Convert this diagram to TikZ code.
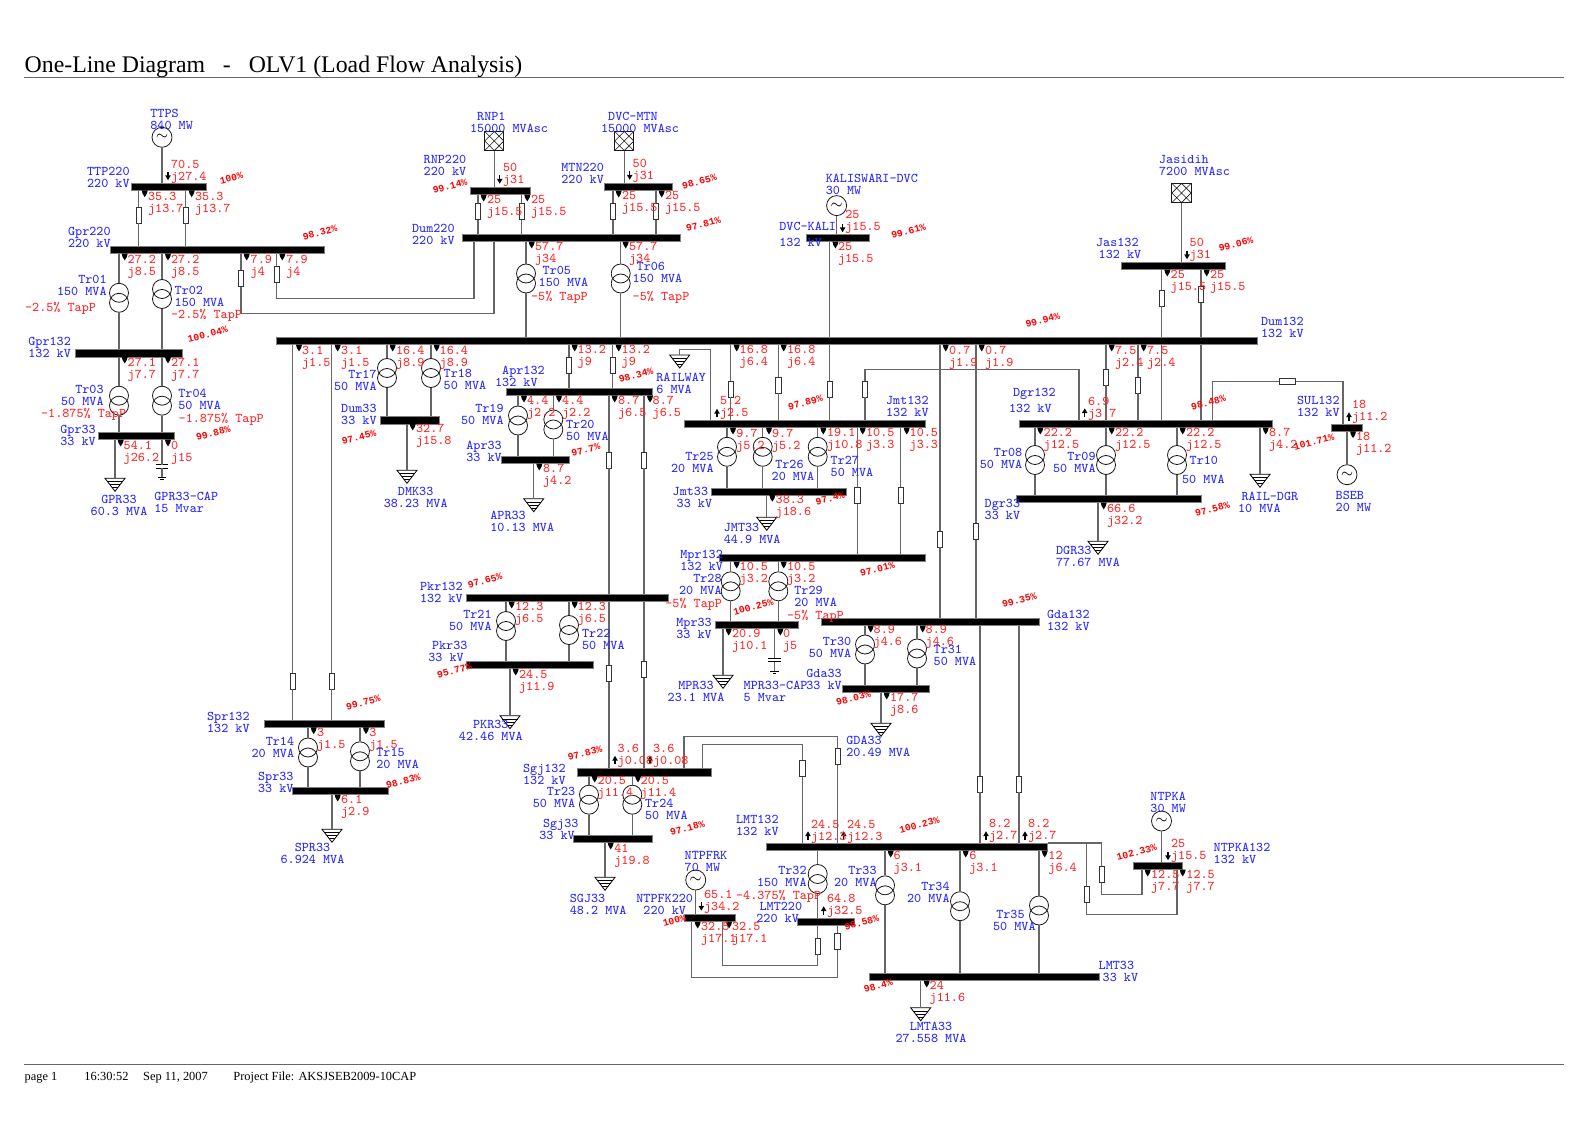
\documentclass[tikz,border=0pt]{standalone}
\usepackage{fontspec}
\setmainfont{Liberation Serif}
\newfontfamily\pctfont{Liberation Mono}
\usetikzlibrary{positioning}

\begin{document}
\begin{tikzpicture}[
    x=0.5pt, y=-0.5pt,
    bus/.style={rectangle, fill=black, draw=black!50, line width=.3pt, minimum height=3.6pt, inner sep=0pt},
    wire/.style={draw=black!60, line width=.7pt},
    cable/.style={rectangle, draw=black!80, fill=white, line width=.4pt, minimum width=2.7pt, minimum height=8pt, inner sep=0pt},
    hcable/.style={cable, minimum width=8pt, minimum height=2.7pt},
    coil/.style={circle, draw=black!90, line width=.4pt, minimum size=9.5pt, inner sep=0pt},
    gen/.style={circle, draw=black!90, line width=.4pt, fill=white, minimum size=10pt, inner sep=0pt, font=\fontsize{7pt}{7pt}\selectfont},
    grid/.style={rectangle, draw=black!90, line width=.5pt, minimum size=9.6pt, inner sep=0pt,
        path picture={\draw[line width=.3pt] (path picture bounding box.north west) -- (path picture bounding box.south east)
            (path picture bounding box.north east) -- (path picture bounding box.south west)
            (path picture bounding box.north) -- (path picture bounding box.east) -- (path picture bounding box.south) -- (path picture bounding box.west) -- cycle;}},
    tag/.style={font=\ttfamily\fontsize{6.67pt}{6pt}\selectfont, text=blue!85, align=left, anchor=north west, inner sep=0pt, yshift=.2pt},
    tagr/.style={tag, align=right, anchor=north east},
    tagc/.style={tag, align=center, anchor=north},
    flow/.style={tag, text=red!85, yshift=-.2pt},
    pct/.style={font=\pctfont\bfseries\fontsize{4.9pt}{6pt}\selectfont, text=red, rotate=15, inner sep=0pt},
    rule/.style={draw=black!60, line width=.4pt},
    xfmr/.pic={\node[coil] (-a) at (0,2.5pt) {}; \node[coil] (-b) at (0,-2.5pt) {};},
    loadsym/.pic={\coordinate (-top) at (0,0);
        \draw[line width=.4pt] (-5pt,0) -- (5pt,0) -- (0,-6.5pt) -- cycle;
        \draw[line width=.3pt] (-3.8pt,-1.6pt) -- (3.8pt,-1.6pt) (-2.6pt,-3.1pt) -- (2.6pt,-3.1pt) (-1.5pt,-4.6pt) -- (1.5pt,-4.6pt);},
    capsym/.pic={\coordinate (-top) at (0,0);
        \draw[line width=.4pt] (-3.2pt,0) -- (3.2pt,0) (-3.2pt,-1.7pt) -- (3.2pt,-1.7pt);
        \draw[wire] (0,-1.7pt) -- (0,-6.3pt);
        \draw[line width=.4pt] (-2.2pt,-6.3pt) -- (2.2pt,-6.3pt) (-.8pt,-7.5pt) -- (.8pt,-7.5pt);},
    mark/.pic={\fill (-1.5pt,.2pt) -- (1.5pt,.2pt) -- (1.1pt,-1.4pt) -- (0,-3.2pt) -- (-1.1pt,-1.4pt) -- cycle;},
    arrdn/.pic={\draw[line width=.6pt] (0,2.1pt) -- (0,0); \fill (-1.4pt,.3pt) -- (1.4pt,.3pt) -- (0,-2.1pt) -- cycle;},
    arrup/.pic={\draw[line width=.6pt] (0,-2.1pt) -- (0,0); \fill (-1.4pt,-.3pt) -- (1.4pt,-.3pt) -- (0,2.1pt) -- cycle;}
]
\useasboundingbox (0,0) rectangle (1588,1122);

% Title and footer
\node[anchor=base west, inner sep=0pt, font=\fontsize{11.9pt}{13pt}\selectfont] (title) at (24.3,73) {One-Line Diagram\ \ \ -\ \ \ OLV1 (Load Flow Analysis)};
\draw[rule] (24.3,77.5) -- (1564,77.5);
\draw[rule] (24.3,1064.5) -- (1564,1064.5);
\node[anchor=base west, inner sep=0pt, font=\fontsize{6.2pt}{7pt}\selectfont] (foot1) at (24.3,1080) {page 1};
\node[anchor=base west, inner sep=0pt, font=\fontsize{6.2pt}{7pt}\selectfont] (foot2) at (84,1080) {16:30:52};
\node[anchor=base west, inner sep=0pt, font=\fontsize{6.2pt}{7pt}\selectfont] (foot3) at (142.8,1080) {Sep 11, 2007};
\node[anchor=base west, inner sep=0pt, font=\fontsize{6.2pt}{7pt}\selectfont] (foot4) at (233,1080) {Project File: AKSJSEB2009-10CAP};

% Buses
\node[bus, minimum width=37.5pt] (ttp220) at (168.5,187) {};
\node[bus, minimum width=106.6pt] (gpr220) at (217.3,250) {};
\node[bus, minimum width=53.2pt] (gpr132) at (128.8,353.3) {};
\node[bus, minimum width=37.7pt] (gpr33) at (136.3,436) {};
\node[bus, minimum width=29.7pt] (rnp220) at (500.3,191) {};
\node[bus, minimum width=33.7pt] (mtn220) at (638.3,187) {};
\node[bus, minimum width=108.7pt] (dum220) at (571.3,238) {};
\node[bus, minimum width=490.2pt] (dum132) at (766.8,341) {};
\node[bus, minimum width=29.7pt] (dum33) at (409.7,420.3) {};
\node[bus, minimum width=73.2pt] (apr132) at (579.2,392) {};
\node[bus, minimum width=33.7pt] (apr33) at (535.3,460) {};
\node[bus, minimum width=100.8pt] (pkr132) at (567.5,598) {};
\node[bus, minimum width=63.3pt] (pkr33) at (530,665) {};
\node[bus, minimum width=120.7pt] (jmt132) at (804.7,424) {};
\node[bus, minimum width=67.5pt] (jmt33) at (778.5,491.5) {};
\node[bus, minimum width=103.2pt] (mpr132) at (822.2,558) {};
\node[bus, minimum width=41.7pt] (mpr33) at (756.7,625) {};
\node[bus, minimum width=108.8pt] (gda132) at (930.5,622) {};
\node[bus, minimum width=43.5pt] (gda33) at (885.8,689) {};
\node[bus, minimum width=67.2pt] (sgj132) at (644.2,772.3) {};
\node[bus, minimum width=39.7pt] (sgj33) at (612.7,839) {};
\node[bus, minimum width=59.8pt] (spr132) at (324.5,724) {};
\node[bus, minimum width=47.8pt] (spr33) at (340.5,791) {};
\node[bus, minimum width=31.5pt] (kali132) at (837.5,238) {};
\node[bus, minimum width=51.8pt] (jas132) at (1173.5,266) {};
\node[bus, minimum width=126.3pt] (dgr132) at (1146,424) {};
\node[bus, minimum width=92.7pt] (dgr33) at (1108.7,499) {};
\node[bus, minimum width=15.5pt] (sul132) at (1347.2,428) {};
\node[bus, minimum width=140.3pt] (lmt132) at (907,847) {};
\node[bus, minimum width=115pt] (lmt33) at (984,977) {};
\node[bus, minimum width=28.2pt] (lmt220) at (825.9,922) {};
\node[bus, minimum width=25.7pt] (ntpfk220) at (709.7,918) {};
\node[bus, minimum width=24.3pt] (ntpka132) at (1158,866) {};

% Sources
\node[gen] (ttps) at (162,137.3) {$\sim$};
\node[gen] (kaliswari) at (836.6,205.6) {$\sim$};
\node[gen] (bseb) at (1347,474.7) {$\sim$};
\node[gen] (ntpfrk) at (695.7,880) {$\sim$};
\node[gen] (ntpka) at (1161.5,821) {$\sim$};
\node[grid] (rnp1) at (494.3,141) {};
\node[grid] (dvcmtn) at (624.3,141) {};
\node[grid] (jasidih) at (1181.5,193) {};
\draw[wire] (ttps) -- (ttps |- ttp220.north);
\draw[wire] (kaliswari) -- (kaliswari |- kali132.north);
\draw[wire] (bseb) -- (bseb |- sul132.south);
\draw[wire] (ntpfrk) -- (ntpfrk |- ntpfk220.north);
\draw[wire] (ntpka) -- (ntpka |- ntpka132.north);
\draw[wire] (rnp1) -- (rnp1 |- rnp220.north);
\draw[wire] (dvcmtn) -- (dvcmtn |- mtn220.north);
\draw[wire] (jasidih) -- (jasidih |- jas132.north);

% Cables between buses
\node[cable] (c01) at (138.7,215) {};
\node[cable] (c02) at (185.7,215) {};
\draw[wire] (c01 |- ttp220.south) -- (c01) -- (c01 |- gpr220.north);
\draw[wire] (c02 |- ttp220.south) -- (c02) -- (c02 |- gpr220.north);
\node[cable] (c03) at (241,278.3) {};
\node[cable] (c04) at (276.7,274.3) {};
\coordinate (g1) at (494,313.3);
\coordinate (g2) at (474,298.3);
\draw[wire] (c03 |- gpr220.south) -- (c03) -- (c03 |- g1) -- (g1) -- (g1 |- dum220.south);
\draw[wire] (c04 |- gpr220.south) -- (c04) -- (c04 |- g2) -- (g2) -- (g2 |- dum220.south);
\node[cable] (c05) at (478,211.3) {};
\node[cable] (c06) at (521.7,211.3) {};
\node[cable] (c07) at (613,211.3) {};
\node[cable] (c08) at (656,211.3) {};
\draw[wire] (c05 |- rnp220.south) -- (c05) -- (c05 |- dum220.north);
\draw[wire] (c06 |- rnp220.south) -- (c06) -- (c06 |- dum220.north);
\draw[wire] (c07 |- mtn220.south) -- (c07) -- (c07 |- dum220.north);
\draw[wire] (c08 |- mtn220.south) -- (c08) -- (c08 |- dum220.north);
\node[cable] (c09) at (292.7,681) {};
\node[cable] (c10) at (331.7,681) {};
\draw[wire] (c09 |- dum132.south) -- (c09) -- (c09 |- spr132.north);
\draw[wire] (c10 |- dum132.south) -- (c10) -- (c10 |- spr132.north);
\node[cable] (c11) at (569,365.3) {};
\node[cable] (c12) at (612.7,365.3) {};
\draw[wire] (c11 |- dum132.south) -- (c11) -- (c11 |- apr132.north);
\draw[wire] (c12 |- dum132.south) -- (c12) -- (c12 |- apr132.north);
\node[cable] (c13) at (609,460) {};
\node[cable] (c14) at (644,460) {};
\node[cable] (c15) at (609,673.3) {};
\node[cable] (c16) at (644,669.3) {};
\draw[wire] (c13 |- apr132.south) -- (c13) -- (c13 |- pkr132.north);
\draw[wire] (c14 |- apr132.south) -- (c14) -- (c14 |- pkr132.north);
\draw[wire] (c15 |- pkr132.south) -- (c15) -- (c15 |- sgj132.north);
\draw[wire] (c16 |- pkr132.south) -- (c16) -- (c16 |- sgj132.north);
\node[cable] (c17) at (730.7,389) {};
\node[cable] (c18) at (778.3,385) {};
\node[cable] (c19) at (829.7,389) {};
\draw[wire] (c17 |- dum132.south) -- (c17) -- (c17 |- jmt132.north);
\draw[wire] (c18 |- dum132.south) -- (c18) -- (c18 |- jmt132.north);
\draw[wire] (c19 |- kali132.south) -- (c19 |- dum132.north);
\draw[wire] (c19 |- dum132.south) -- (c19) -- (c19 |- jmt132.north);
\node[cable] (c20) at (865,389) {};
\coordinate (j1) at (1079,369.3);
\draw[wire] (c20 |- jmt132.north) -- (c20) -- (c20 |- j1) -- (j1) -- (j1 |- dgr132.north);
\node[cable] (c21) at (857.3,495.3) {};
\node[cable] (c22) at (900.7,495.3) {};
\draw[wire] (c21 |- jmt132.south) -- (c21) -- (c21 |- mpr132.north);
\draw[wire] (c22 |- jmt132.south) -- (c22) -- (c22 |- mpr132.north);
\node[cable] (c23) at (940,539) {};
\node[cable] (c24) at (976,531.7) {};
\draw[wire] (c23 |- dum132.south) -- (c23) -- (c23 |- gda132.north);
\draw[wire] (c24 |- dum132.south) -- (c24) -- (c24 |- gda132.north);
\node[cable] (c25) at (980,784) {};
\node[cable] (c26) at (1019,784) {};
\draw[wire] (c25 |- gda132.south) -- (c25) -- (c25 |- lmt132.north);
\draw[wire] (c26 |- gda132.south) -- (c26) -- (c26 |- lmt132.north);
\node[cable] (c27) at (1161.7,298) {};
\node[cable] (c28) at (1201,294.3) {};
\draw[wire] (c27 |- jas132.south) -- (c27) -- (c27 |- dum132.north);
\draw[wire] (c28 |- jas132.south) -- (c28) -- (c28 |- dum132.north);
\draw[wire] (c27 |- dum132.south) -- (c27 |- dgr132.north);
\draw[wire] (c28 |- dum132.south) -- (c28 |- dgr132.north);
\node[cable] (c29) at (1106,377) {};
\node[cable] (c30) at (1138,385) {};
\draw[wire] (c29 |- dum132.south) -- (c29) -- (c29 |- dgr132.north);
\draw[wire] (c30 |- dum132.south) -- (c30) -- (c30 |- dgr132.north);
\node[hcable] (c31) at (1287.7,381.3) {};
\coordinate (d1) at (1212.7,381.3);
\coordinate (d2) at (1343,381.3);
\draw[wire] (d1 |- dgr132.north) -- (d1) -- (c31) -- (d2) -- (d2 |- sul132.north);
\node[cable] (c32) at (837.7,756.7) {};
\node[cable] (c33) at (802.3,768.3) {};
\coordinate (s1) at (684,736.7);
\coordinate (s2) at (702.7,744.3);
\draw[wire] (s1 |- sgj132.north) -- (s1) -| (c32);
\draw[wire] (c32) -- (c32 |- lmt132.north);
\draw[wire] (s2 |- sgj132.north) -- (s2) -| (c33);
\draw[wire] (c33) -- (c33 |- lmt132.north);
\node[cable] (c34) at (1101.7,874.3) {};
\node[cable] (c35) at (1086.7,894.3) {};
\coordinate (k1) at (1142,894.3);
\coordinate (k2) at (1177,914.3);
\draw[wire] (lmt132.north east) -| (c34);
\draw[wire] (c34) -- (c34 |- k1) -- (k1) -- (k1 |- ntpka132.south);
\draw[wire] (c35 |- lmt132.north east) -- (c35) -- (c35 |- k2) -- (k2) -- (k2 |- ntpka132.south);
\node[cable] (c36) at (817.7,946) {};
\node[cable] (c37) at (837.3,941.7) {};
\coordinate (n1) at (722.7,965.7);
\coordinate (n2) at (691.7,977.3);
\draw[wire] (c36 |- lmt220.south) -- (c36) -- (c36 |- n1) -- (n1) -- (n1 |- ntpfk220.south);
\draw[wire] (c37 |- lmt220.south) -- (c37) -- (c37 |- n2) -- (n2) -- (n2 |- ntpfk220.south);

% Transformers
\pic (tr01) at (119,297.8) {xfmr};
\pic (tr02) at (162,294) {xfmr};
\pic (tr03) at (119,400.7) {xfmr};
\pic (tr04) at (162,400.7) {xfmr};
\pic (tr05) at (526,278.5) {xfmr};
\pic (tr06) at (620.7,278.5) {xfmr};
\pic (tr08) at (1035,460) {xfmr};
\pic (tr09) at (1106,460) {xfmr};
\pic (tr10) at (1177,460) {xfmr};
\pic (tr14) at (308,752.5) {xfmr};
\pic (tr15) at (360,756.3) {xfmr};
\pic (tr17) at (387,373) {xfmr};
\pic (tr18) at (431,373) {xfmr};
\pic (tr19) at (518,420.5) {xfmr};
\pic (tr20) at (553.3,424.5) {xfmr};
\pic (tr21) at (506,626) {xfmr};
\pic (tr22) at (569,630) {xfmr};
\pic (tr23) at (589,799.7) {xfmr};
\pic (tr24) at (632.3,799.7) {xfmr};
\pic (tr25) at (727,451.8) {xfmr};
\pic (tr26) at (762.7,451.8) {xfmr};
\pic (tr27) at (817.7,451.8) {xfmr};
\pic (tr28) at (730.7,586.3) {xfmr};
\pic (tr29) at (778.3,586.3) {xfmr};
\pic (tr30) at (865,649.5) {xfmr};
\pic (tr31) at (917,653.5) {xfmr};
\pic (tr32) at (817.7,879) {xfmr};
\pic (tr33) at (885,890.3) {xfmr};
\pic (tr34) at (960,906.2) {xfmr};
\pic (tr35) at (1039,910.5) {xfmr};
\draw[wire] (tr01-a |- gpr220.south) -- (tr01-a) (tr01-b) -- (tr01-b |- gpr132.north);
\draw[wire] (tr02-a |- gpr220.south) -- (tr02-a) (tr02-b) -- (tr02-b |- gpr132.north);
\draw[wire] (tr03-a |- gpr132.south) -- (tr03-a) (tr03-b) -- (tr03-b |- gpr33.north);
\draw[wire] (tr04-a |- gpr132.south) -- (tr04-a) (tr04-b) -- (tr04-b |- gpr33.north);
\draw[wire] (tr05-a |- dum220.south) -- (tr05-a) (tr05-b) -- (tr05-b |- dum132.north);
\draw[wire] (tr06-a |- dum220.south) -- (tr06-a) (tr06-b) -- (tr06-b |- dum132.north);
\draw[wire] (tr08-a |- dgr132.south) -- (tr08-a) (tr08-b) -- (tr08-b |- dgr33.north);
\draw[wire] (tr09-a |- dgr132.south) -- (tr09-a) (tr09-b) -- (tr09-b |- dgr33.north);
\draw[wire] (tr10-a |- dgr132.south) -- (tr10-a) (tr10-b) -- (tr10-b |- dgr33.north);
\draw[wire] (tr14-a |- spr132.south) -- (tr14-a) (tr14-b) -- (tr14-b |- spr33.north);
\draw[wire] (tr15-a |- spr132.south) -- (tr15-a) (tr15-b) -- (tr15-b |- spr33.north);
\draw[wire] (tr17-a |- dum132.south) -- (tr17-a) (tr17-b) -- (tr17-b |- dum33.north);
\draw[wire] (tr18-a |- dum132.south) -- (tr18-a) (tr18-b) -- (tr18-b |- dum33.north);
\draw[wire] (tr19-a |- apr132.south) -- (tr19-a) (tr19-b) -- (tr19-b |- apr33.north);
\draw[wire] (tr20-a |- apr132.south) -- (tr20-a) (tr20-b) -- (tr20-b |- apr33.north);
\draw[wire] (tr21-a |- pkr132.south) -- (tr21-a) (tr21-b) -- (tr21-b |- pkr33.north);
\draw[wire] (tr22-a |- pkr132.south) -- (tr22-a) (tr22-b) -- (tr22-b |- pkr33.north);
\draw[wire] (tr23-a |- sgj132.south) -- (tr23-a) (tr23-b) -- (tr23-b |- sgj33.north);
\draw[wire] (tr24-a |- sgj132.south) -- (tr24-a) (tr24-b) -- (tr24-b |- sgj33.north);
\draw[wire] (tr25-a |- jmt132.south) -- (tr25-a) (tr25-b) -- (tr25-b |- jmt33.north);
\draw[wire] (tr26-a |- jmt132.south) -- (tr26-a) (tr26-b) -- (tr26-b |- jmt33.north);
\draw[wire] (tr27-a |- jmt132.south) -- (tr27-a) (tr27-b) -- (tr27-b |- jmt33.north);
\draw[wire] (tr28-a |- mpr132.south) -- (tr28-a) (tr28-b) -- (tr28-b |- mpr33.north);
\draw[wire] (tr29-a |- mpr132.south) -- (tr29-a) (tr29-b) -- (tr29-b |- mpr33.north);
\draw[wire] (tr30-a |- gda132.south) -- (tr30-a) (tr30-b) -- (tr30-b |- gda33.north);
\draw[wire] (tr31-a |- gda132.south) -- (tr31-a) (tr31-b) -- (tr31-b |- gda33.north);
\draw[wire] (tr32-a |- lmt132.south) -- (tr32-a) (tr32-b) -- (tr32-b |- lmt220.north);
\draw[wire] (tr33-a |- lmt132.south) -- (tr33-a) (tr33-b) -- (tr33-b |- lmt33.north);
\draw[wire] (tr34-a |- lmt132.south) -- (tr34-a) (tr34-b) -- (tr34-b |- lmt33.north);
\draw[wire] (tr35-a |- lmt132.south) -- (tr35-a) (tr35-b) -- (tr35-b |- lmt33.north);

% Loads and capacitors
\pic (gprload) at (115,478.3) {loadsym};
\pic (dmkload) at (407,470.3) {loadsym};
\pic (aprload) at (533.7,498.7) {loadsym};
\pic (pkrload) at (510,715.7) {loadsym};
\pic (sprload) at (332,829.3) {loadsym};
\pic (sgjload) at (605,877.3) {loadsym};
\pic (jmtload) at (766.7,517.3) {loadsym};
\pic (mprload) at (723,675.3) {loadsym};
\pic (gdaload) at (881,723.3) {loadsym};
\pic (dgrload) at (1098,541.3) {loadsym};
\pic (rdgload) at (1260,474.3) {loadsym};
\pic (lmtload) at (920.7,1007.8) {loadsym};
\pic (railload) at (679.7,355) {loadsym};
\pic (gprcap) at (162,464.5) {capsym};
\pic (mprcap) at (774.7,658.3) {capsym};
\draw[wire] (gpr33.south -| gprload-top) -- (gprload-top);
\draw[wire] (dum33.south -| dmkload-top) -- (dmkload-top);
\draw[wire] (apr33.south -| aprload-top) -- (aprload-top);
\draw[wire] (pkr33.south -| pkrload-top) -- (pkrload-top);
\draw[wire] (spr33.south -| sprload-top) -- (sprload-top);
\draw[wire] (sgj33.south -| sgjload-top) -- (sgjload-top);
\draw[wire] (jmt33.south -| jmtload-top) -- (jmtload-top);
\draw[wire] (mpr33.south -| mprload-top) -- (mprload-top);
\draw[wire] (gda33.south -| gdaload-top) -- (gdaload-top);
\draw[wire] (dgr33.south -| dgrload-top) -- (dgrload-top);
\draw[wire] (dgr132.south -| rdgload-top) -- (rdgload-top);
\draw[wire] (lmt33.south -| lmtload-top) -- (lmtload-top);
\draw[wire] (gpr33.south -| gprcap-top) -- (gprcap-top);
\draw[wire] (mpr33.south -| mprcap-top) -- (mprcap-top);
\coordinate (railtap) at (710.7,349.3);
\draw[wire] (railload-top) |- (railtap) -- (railtap |- jmt132.north);

% Flow marks under the buses
\path pic at (144.7,190.7) {mark} pic at (191.7,190.7) {mark};
\path pic at (124.7,254) {mark} pic at (168,254) {mark} pic at (246.7,254) {mark} pic at (282.3,254) {mark};
\path pic at (124.7,357) {mark} pic at (168,357) {mark};
\path pic at (120.7,440) {mark} pic at (168,440) {mark};
\path pic at (483.7,195) {mark} pic at (527.3,195) {mark} pic at (618.7,191) {mark} pic at (661.7,191) {mark};
\path pic at (531.7,242) {mark} pic at (625.7,242) {mark};
\path pic at (299,345) {mark} pic at (337.7,345) {mark} pic at (392.7,345) {mark} pic at (436.7,345) {mark};
\path pic at (574.7,345) {mark} pic at (618.7,345) {mark} pic at (736.7,345) {mark} pic at (783.7,345) {mark};
\path pic at (945.7,345) {mark} pic at (981.7,345) {mark} pic at (1111.7,345) {mark} pic at (1143.7,345) {mark};
\path pic at (412.7,424) {mark} pic at (524,396) {mark} pic at (559,396) {mark} pic at (614.7,396) {mark} pic at (650,396) {mark} pic at (539.3,464) {mark};
\path pic at (511.7,602) {mark} pic at (574.7,602) {mark} pic at (515.7,669) {mark};
\path pic at (733,428) {mark} pic at (769,428) {mark} pic at (823.3,428) {mark} pic at (862.7,428) {mark} pic at (906.7,428) {mark} pic at (772.3,495.3) {mark};
\path pic at (736.7,562) {mark} pic at (783.7,562) {mark} pic at (728.7,629) {mark} pic at (780.3,629) {mark};
\path pic at (870.7,626) {mark} pic at (922.7,626) {mark} pic at (886.7,693) {mark};
\path pic at (594.7,776) {mark} pic at (638,776) {mark} pic at (610.7,843) {mark};
\path pic at (313.7,727.7) {mark} pic at (366,727.7) {mark} pic at (337.7,795) {mark};
\path pic at (835.4,242) {mark} pic at (1167.3,270) {mark} pic at (1206.7,270) {mark};
\path pic at (1040.3,428) {mark} pic at (1111.7,428) {mark} pic at (1182.7,428) {mark} pic at (1265.7,428) {mark} pic at (1103.7,503) {mark} pic at (1353,431.7) {mark};
\path pic at (890.7,851) {mark} pic at (965.7,851) {mark} pic at (1044.7,851) {mark} pic at (926.7,981) {mark};
\path pic at (697.7,922) {mark} pic at (729,922) {mark} pic at (1147.7,870) {mark} pic at (1182.7,870) {mark};

% Flow arrows above the buses
\path pic at (168,176) {arrdn} pic at (499.7,179.5) {arrdn} pic at (629.7,175.5) {arrdn} pic at (842.6,228) {arrdn} pic at (1187,255) {arrdn} pic at (701.3,906.5) {arrdn} pic at (1168,856) {arrdn};
\path pic at (717,413) {arrup} pic at (1084.7,412.5) {arrup} pic at (1349,416.5) {arrup} pic at (615,760) {arrup} pic at (650,760) {arrup};
\path pic at (808,835.5) {arrup} pic at (843.7,835.5) {arrup} pic at (986,835.5) {arrup} pic at (1025,835.5) {arrup} pic at (823.7,910.5) {arrup};

% Names and ratings
\node[tag] (ttpsT) at (150,109) {TTPS\\840 MW};
\node[tag] (ttp220T) at (86.7,167.7) {TTP220\\220 kV};
\node[tag] (gpr220T) at (67.7,227.7) {Gpr220\\220 kV};
\node[tagr] (tr01T) at (107,275) {Tr01\\150 MVA};
\node[tag] (tr02T) at (174.3,286.7) {Tr02\\150 MVA};
\node[tag] (gpr132T) at (28,337.7) {Gpr132\\132 kV};
\node[tagr] (tr03T) at (104,385.7) {Tr03\\50 MVA};
\node[tag] (tr04T) at (178,389) {Tr04\\50 MVA};
\node[tag] (gpr33T) at (60,425) {Gpr33\\33 kV};
\node[tagc] (gprloadT) at (119,495.7) {GPR33\\60.3 MVA};
\node[tag] (gprcapT) at (154,491.7) {GPR33-CAP\\15 Mvar};
\node[tag] (rnp1T) at (469.7,112.7) {~RNP1\\15000 MVAsc};
\node[tag] (dvcmtnT) at (600.7,112.7) {~DVC-MTN\\15000 MVAsc};
\node[tag] (rnp220T) at (423.3,155.7) {RNP220\\220 kV};
\node[tag] (mtn220T) at (561,163.7) {MTN220\\220 kV};
\node[tag] (dum220T) at (411.7,224) {Dum220\\220 kV};
\node[tag] (tr05T) at (538.3,266.7) {\hspace*{2pt}Tr05\\150 MVA};
\node[tag] (tr06T) at (632.3,262.3) {\hspace*{2pt}Tr06\\150 MVA};
\node[tagr] (tr17T) at (377,370) {Tr17\\50 MVA};
\node[tag] (tr18T) at (443.3,369.3) {Tr18\\50 MVA};
\node[tagr] (dum33T) at (377,404.7) {Dum33\\33 kV};
\node[tagc] (dmkloadT) at (415.7,487.7) {DMK33\\38.23 MVA};
\node[tag] (apr132T) at (494.7,366) {~Apr132\\132 kV};
\node[tagr] (tr19T) at (504,404.7) {Tr19\\50 MVA};
\node[tag] (tr20T) at (565.7,420.7) {Tr20\\50 MVA};
\node[tag] (apr33T) at (466,440.7) {Apr33\\33 kV};
\node[tag] (aprloadT) at (490,511.3) {APR33\\10.13 MVA};
\node[tag] (pkr132T) at (419.7,582.3) {Pkr132\\132 kV};
\node[tagr] (tr21T) at (492,610.7) {Tr21\\50 MVA};
\node[tag] (tr22T) at (581.7,629.3) {Tr22\\50 MVA};
\node[tag] (pkr33T) at (428,641.7) {\hspace*{1.8pt}Pkr33\\33 kV};
\node[tagc] (pkrloadT) at (490.8,720.7) {PKR33\\42.46 MVA};
\node[tag] (railT) at (656,373.3) {RAILWAY\\6 MVA};
\node[tag] (jmt132T) at (885.7,396.3) {Jmt132\\132 kV};
\node[tagr] (tr25T) at (714,452.7) {Tr25\\20 MVA};
\node[tag] (tr26T) at (771.3,460) {\hspace*{1.8pt}Tr26\\20 MVA};
\node[tag] (tr27T) at (830.3,456) {Tr27\\50 MVA};
\node[tag] (jmt33T) at (672.3,487.3) {Jmt33\\\hspace*{2pt}33 kV};
\node[tag] (jmtloadT) at (723.5,523.3) {JMT33\\44.9 MVA};
\node[tag] (mpr132T) at (680,550.3) {Mpr132\\132 kV};
\node[tagr] (tr28T) at (722,574) {Tr28\\20 MVA};
\node[tag] (tr29T) at (794,586.7) {Tr29\\20 MVA};
\node[tag] (mpr33T) at (676,618.7) {Mpr33\\33 kV};
\node[tagc] (mprloadT) at (696,681) {MPR33\\23.1 MVA};
\node[tag] (mprcapT) at (743.3,681) {MPR33-CAP\\5 Mvar};
\node[tag] (gda33T) at (806,669.3) {Gda33\\33 kV};
\node[tag] (gda132T) at (1046.7,610.3) {Gda132\\132 kV};
\node[tagr] (tr30T) at (851.7,637.3) {Tr30\\50 MVA};
\node[tag] (tr31T) at (933.3,645.7) {Tr31\\50 MVA};
\node[tag] (gdaloadT) at (846,736) {GDA33\\20.49 MVA};
\node[tag] (spr132T) at (206.7,712.7) {Spr132\\132 kV};
\node[tagr] (tr14T) at (294.5,736.7) {Tr14\\20 MVA};
\node[tag] (tr15T) at (376,748.3) {Tr15\\20 MVA};
\node[tag] (spr33T) at (257.7,772.7) {Spr33\\33 kV};
\node[tagc] (sprloadT) at (312.5,843.3) {SPR33\\6.924 MVA};
\node[tag] (sgj132T) at (522.7,764.7) {Sgj132\\132 kV};
\node[tagr] (tr23T) at (575.7,787.7) {Tr23\\50 MVA};
\node[tag] (tr24T) at (644.7,799) {Tr24\\50 MVA};
\node[tag] (sgj33T) at (539,819.3) {\hspace*{1.8pt}Sgj33\\33 kV};
\node[tag] (sgjloadT) at (569.5,894.7) {SGJ33\\48.2 MVA};
\node[tag] (ntpfrkT) at (684.3,851.7) {NTPFRK\\70 MW};
\node[tag] (ntpfk220T) at (636,894.7) {NTPFK220\\~220 kV};
\node[tag] (lmt132T) at (735.7,815.3) {LMT132\\132 kV};
\node[tagr] (tr32T) at (807,866.7) {Tr32\\150 MVA};
\node[tag] (lmt220T) at (756,902.3) {\hspace*{1.6pt}LMT220\\220 kV};
\node[tagr] (tr33T) at (877,866.7) {Tr33\\20 MVA};
\node[tagr] (tr34T) at (950,882.3) {Tr34\\20 MVA};
\node[tag] (tr35T) at (992.7,910.7) {\hspace*{1.6pt}Tr35\\50 MVA};
\node[tag] (lmt33T) at (1098.3,961.7) {LMT33\\\hspace*{2pt}33 kV};
\node[tagc] (lmtloadT) at (931,1022) {LMTA33\\27.558 MVA};
\node[tag] (ntpkaT) at (1150,791.7) {NTPKA\\30 MW};
\node[tag] (ntpka132T) at (1213.3,843.3) {NTPKA132\\132 kV};
\node[tag] (kaliswariT) at (825.4,174) {KALISWARI-DVC\\30 MW};
\node[tag, align=left] (kali132T) at (779,221.8) {DVC-KALI\\[2pt]132 kV};
\node[tag] (jasidihT) at (1158.7,155.7) {Jasidih\\7200 MVAsc};
\node[tag] (jas132T) at (1095.7,238.7) {Jas132\\\hspace*{1.3pt}132 kV};
\node[tag] (dum132T) at (1260.7,317.7) {Dum132\\132 kV};
\node[tag] (dgr132T) at (1008.7,388.7) {\hspace*{2pt}Dgr132\\[2pt]132 kV};
\node[tagr] (tr08T) at (1022.7,448.7) {Tr08\\50 MVA};
\node[tagr] (tr09T) at (1096,452.7) {Tr09\\50 MVA};
\node[tag] (tr10T) at (1189.3,456.7) {Tr10};
\node[tag] (tr10R) at (1181.7,475.3) {50 MVA};
\node[tag] (dgr33T) at (984.3,499.7) {Dgr33\\33 kV};
\node[tag] (dgrloadT) at (1055.7,546.7) {DGR33\\77.67 MVA};
\node[tag] (rdgloadT) at (1237.7,492) {\hspace*{1.7pt}RAIL-DGR\\10 MVA};
\node[tag] (sul132T) at (1296.7,396.7) {SUL132\\132 kV};
\node[tag] (bsebT) at (1335.3,491.7) {BSEB\\20 MW};

% Power flows
\node[flow] (f01) at (170.7,159.3) {70.5\\j27.4};
\node[flow] (f02) at (147.7,191.7) {35.3\\j13.7};
\node[flow] (f03) at (194.7,191.7) {35.3\\j13.7};
\node[flow] (f04) at (127.3,254.3) {27.2\\j8.5};
\node[flow] (f05) at (170.7,254.3) {27.2\\j8.5};
\node[flow] (f06) at (250.3,254.3) {7.9\\j4};
\node[flow] (f07) at (286,254.3) {7.9\\j4};
\node[flow] (f08) at (127.3,357.7) {27.1\\j7.7};
\node[flow] (f09) at (170.7,357.7) {27.1\\j7.7};
\node[flow] (f10) at (123.3,440.7) {54.1\\j26.2};
\node[flow] (f11) at (170.7,440.7) {0\\j15};
\node[flow] (f12) at (24.7,302.3) {-2.5\% TapP};
\node[flow] (f13) at (170.7,309.3) {-2.5\% TapP};
\node[flow] (f14) at (40.7,408.3) {-1.875\% TapP};
\node[flow] (f15) at (178.3,412.7) {-1.875\% TapP};
\node[flow] (f16) at (301.7,345.7) {3.1\\j1.5};
\node[flow] (f17) at (340.7,345.7) {3.1\\j1.5};
\node[flow] (f18) at (395.7,345.3) {16.4\\j8.9};
\node[flow] (f19) at (439.3,345.3) {16.4\\j8.9};
\node[flow] (f20) at (415.7,424) {32.7\\j15.8};
\node[flow] (f21) at (502.7,163.3) {50\\j31};
\node[flow] (f22) at (632.3,159.3) {50\\j31};
\node[flow] (f23) at (486.7,195.3) {25\\j15.5};
\node[flow] (f24) at (530.7,195.3) {25\\j15.5};
\node[flow] (f25) at (621.7,191) {25\\j15.5};
\node[flow] (f26) at (664.7,191) {25\\j15.5};
\node[flow] (f27) at (534.7,242) {57.7\\j34};
\node[flow] (f28) at (628.7,242) {57.7\\j34};
\node[flow] (f29) at (530.7,290.7) {-5\% TapP};
\node[flow] (f30) at (632.3,290.7) {-5\% TapP};
\node[flow] (f31) at (577.3,345.3) {13.2\\j9};
\node[flow] (f32) at (621.3,345.3) {13.2\\j9};
\node[flow] (f33) at (526.7,396) {4.4\\j2.2};
\node[flow] (f34) at (561.7,396) {4.4\\j2.2};
\node[flow] (f35) at (617.7,396) {8.7\\j6.5};
\node[flow] (f36) at (652.3,396) {8.7\\j6.5};
\node[flow] (f37) at (542.7,463.7) {8.7\\j4.2};
\node[flow] (f38) at (514.7,602.3) {12.3\\j6.5};
\node[flow] (f39) at (577.3,602.3) {12.3\\j6.5};
\node[flow] (f40) at (518.7,669.3) {24.5\\j11.9};
\node[flow] (f41) at (739.3,345.3) {16.8\\j6.4};
\node[flow] (f42) at (786.7,345.3) {16.8\\j6.4};
\node[flow] (f43) at (719.6,396) {5.2\\j2.5};
\node[flow] (f44) at (736,428.3) {9.7\\j5.2};
\node[flow] (f45) at (771.7,428.3) {9.7\\j5.2};
\node[flow] (f46) at (826.7,428.3) {19.1\\j10.8};
\node[flow] (f47) at (865.7,428.3) {10.5\\j3.3};
\node[flow] (f48) at (909.3,428.3) {10.5\\j3.3};
\node[flow] (f49) at (775.3,495) {38.3\\j18.6};
\node[flow] (f50) at (739.3,562) {10.5\\j3.2};
\node[flow] (f51) at (786.7,562) {10.5\\j3.2};
\node[flow] (f52) at (665,598.3) {-5\% TapP};
\node[flow] (f53) at (786.7,610) {-5\% TapP};
\node[flow] (f54) at (731.7,629) {20.9\\j10.1};
\node[flow] (f55) at (782.7,629) {0\\j5};
\node[flow] (f56) at (873.3,625.3) {8.9\\j4.6};
\node[flow] (f57) at (925.3,625.3) {8.9\\j4.6};
\node[flow] (f58) at (889.7,693) {17.7\\j8.6};
\node[flow] (f59) at (316.7,728) {3\\j1.5};
\node[flow] (f60) at (369,728) {3\\j1.5};
\node[flow] (f61) at (340.7,795) {6.1\\j2.9};
\node[flow] (f62) at (617.3,744.3) {3.6\\j0.08};
\node[flow] (f63) at (652.7,744.3) {3.6\\j0.08};
\node[flow] (f64) at (597.3,776) {20.5\\j11.4};
\node[flow] (f65) at (640.3,776) {20.5\\j11.4};
\node[flow] (f66) at (614,843.3) {41\\j19.8};
\node[flow] (f67) at (810.7,819.3) {24.5\\j12.3};
\node[flow] (f68) at (846.7,819.3) {24.5\\j12.3};
\node[flow] (f69) at (988.7,819.3) {8.2\\j2.7};
\node[flow] (f70) at (1027.7,819.3) {8.2\\j2.7};
\node[flow] (f71) at (893.3,851.3) {6\\j3.1};
\node[flow] (f72) at (969,851.3) {6\\j3.1};
\node[flow] (f73) at (1048,851.3) {12\\j6.4};
\node[flow] (f74) at (929.3,981) {24\\j11.6};
\node[flow] (f75) at (703.7,890) {65.1\\j34.2};
\node[flow] (f76) at (735.7,890) {-4.375\% TapP};
\node[flow] (f77) at (826.7,894) {64.8\\j32.5};
\node[flow] (f78) at (700.7,922) {32.5\\j17.1};
\node[flow] (f79) at (731.7,922) {32.5\\j17.1};
\node[flow] (f80) at (1170.7,839.3) {25\\j15.5};
\node[flow] (f81) at (1150.7,870) {12.5\\j7.7};
\node[flow] (f82) at (1186,870) {12.5\\j7.7};
\node[flow] (f83) at (845,209.6) {25\\j15.5};
\node[flow] (f84) at (837.6,241.5) {25\\j15.5};
\node[flow] (f85) at (1189.3,238.3) {50\\j31};
\node[flow] (f86) at (1170.3,270.3) {25\\j15.5};
\node[flow] (f87) at (1209.7,270.3) {25\\j15.5};
\node[flow] (f88) at (948.7,345.3) {0.7\\j1.9};
\node[flow] (f89) at (984.7,345.3) {0.7\\j1.9};
\node[flow] (f90) at (1114.7,345.3) {7.5\\j2.4};
\node[flow] (f91) at (1146.7,345.3) {7.5\\j2.4};
\node[flow] (f92) at (1087.7,396.7) {6.9\\j3.7};
\node[flow] (f93) at (1043.3,428) {22.2\\j12.5};
\node[flow] (f94) at (1114.7,428) {22.2\\j12.5};
\node[flow] (f95) at (1185.7,428) {22.2\\j12.5};
\node[flow] (f96) at (1268.7,428) {8.7\\j4.2};
\node[flow] (f97) at (1106.7,503.7) {66.6\\j32.2};
\node[flow] (f98) at (1351.7,400) {18\\j11.2};
\node[flow] (f99) at (1355.7,431.7) {18\\j11.2};

% Bus voltages
\node[pct] (p01) at (231.3,178.3) {100\%};
\node[pct] (p02) at (320,232.7) {98.32\%};
\node[pct] (p03) at (207.7,334.3) {100.04\%};
\node[pct] (p04) at (213.3,433.3) {99.88\%};
\node[pct] (p05) at (450,186) {99.14\%};
\node[pct] (p06) at (699.3,181.7) {98.65\%};
\node[pct] (p07) at (703.3,224) {97.81\%};
\node[pct] (p08) at (359,437.3) {97.45\%};
\node[pct] (p09) at (636,375) {98.34\%};
\node[pct] (p10) at (585.7,450) {97.7\%};
\node[pct] (p11) at (485,580.7) {97.65\%};
\node[pct] (p12) at (454.3,670.7) {95.77\%};
\node[pct] (p13) at (805.3,402.7) {97.89\%};
\node[pct] (p14) at (830,498.3) {97.4\%};
\node[pct] (p15) at (877.3,569) {97.01\%};
\node[pct] (p16) at (753.3,606.7) {100.25\%};
\node[pct] (p17) at (1019.3,600) {99.35\%};
\node[pct] (p18) at (853.3,698.3) {98.03\%};
\node[pct] (p19) at (363.3,702.7) {99.75\%};
\node[pct] (p20) at (403.3,781) {98.83\%};
\node[pct] (p21) at (585,753.3) {97.83\%};
\node[pct] (p22) at (687.3,828.3) {97.18\%};
\node[pct] (p23) at (919.3,825) {100.23\%};
\node[pct] (p24) at (878.3,986) {98.4\%};
\node[pct] (p25) at (861.7,922.7) {98.58\%};
\node[pct] (p26) at (674.3,920.7) {100\%};
\node[pct] (p27) at (1136.7,852.3) {102.33\%};
\node[pct] (p28) at (908.5,231) {99.61\%};
\node[pct] (p29) at (1236,244.3) {99.06\%};
\node[pct] (p30) at (1042.7,320) {99.94\%};
\node[pct] (p31) at (1208.3,402.7) {98.48\%};
\node[pct] (p32) at (1212.3,509.3) {97.58\%};
\node[pct] (p33) at (1314,441.7) {101.71\%};

\end{tikzpicture}
\end{document}
